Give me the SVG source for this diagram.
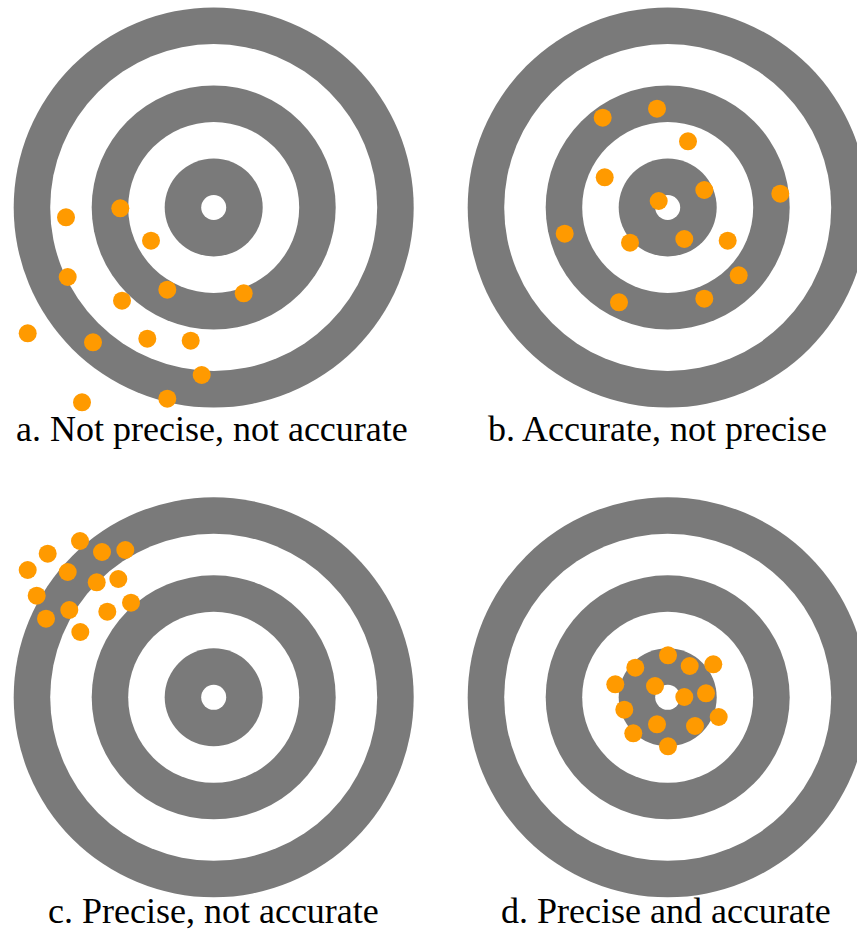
<svg xmlns="http://www.w3.org/2000/svg" width="857" height="930" viewBox="0 0 857 930">
<defs>
<g id="target">
<circle fill="#7a7a7a" r="200"/>
<circle fill="#ffffff" r="163.5"/>
<circle fill="#7a7a7a" r="122"/>
<circle fill="#ffffff" r="85.5"/>
<circle fill="#7a7a7a" r="49"/>
<circle fill="#ffffff" r="12.5"/>
</g>
</defs>
<rect width="857" height="930" fill="#fff"/>
<g id="panel-a">
<use href="#target" x="213.7" y="207.5"/>
<g fill="#ff9a00">
<circle cx="66" cy="217.3" r="9"/><circle cx="120.3" cy="208.3" r="9"/><circle cx="151" cy="240.7" r="9"/>
<circle cx="67.7" cy="277" r="9"/><circle cx="167.3" cy="289.7" r="9"/><circle cx="243.7" cy="293.3" r="9"/>
<circle cx="122" cy="300.7" r="9"/><circle cx="27.7" cy="333.3" r="9"/><circle cx="93" cy="342.3" r="9"/>
<circle cx="147.3" cy="338.7" r="9"/><circle cx="190.7" cy="340.7" r="9"/><circle cx="201.7" cy="375" r="9"/>
<circle cx="167.3" cy="398.7" r="9"/><circle cx="82" cy="402.3" r="9"/>
</g>
<text x="16" y="441" font-size="36" font-family="Times New Roman, Liberation Serif, Tinos, serif" style="font-family:'Liberation Serif','Times New Roman',serif">a. Not precise, not accurate</text>
</g>
<g id="panel-b">
<use href="#target" x="667.7" y="207.5"/>
<g fill="#ff9a00">
<circle cx="602.7" cy="117.7" r="9"/><circle cx="657" cy="108.7" r="9"/><circle cx="688" cy="141.3" r="9"/>
<circle cx="604.7" cy="177.3" r="9"/><circle cx="658.7" cy="201" r="9"/><circle cx="704.3" cy="190" r="9"/>
<circle cx="780.3" cy="193.7" r="9"/><circle cx="564.7" cy="233.7" r="9"/><circle cx="630" cy="242.7" r="9"/>
<circle cx="684.3" cy="239" r="9"/><circle cx="727.7" cy="240.7" r="9"/><circle cx="738.7" cy="275.3" r="9"/>
<circle cx="619" cy="302.3" r="9"/><circle cx="704.3" cy="298.7" r="9"/>
</g>
<text x="488" y="441" font-size="36" font-family="Times New Roman, Liberation Serif, Tinos, serif" style="font-family:'Liberation Serif','Times New Roman',serif">b. Accurate, not precise</text>
</g>
<g id="panel-c">
<use href="#target" x="213.7" y="697.3"/>
<g fill="#ff9a00">
<circle cx="80" cy="541" r="9"/><circle cx="47.7" cy="553.7" r="9"/><circle cx="102" cy="552" r="9"/>
<circle cx="125.3" cy="550" r="9"/><circle cx="27.7" cy="570" r="9"/><circle cx="67.7" cy="572" r="9"/>
<circle cx="118.3" cy="579" r="9"/><circle cx="96.7" cy="582.3" r="9"/><circle cx="36.7" cy="595.7" r="9"/>
<circle cx="131" cy="602.7" r="9"/><circle cx="69.3" cy="610" r="9"/><circle cx="107.3" cy="611.7" r="9"/>
<circle cx="46" cy="618.7" r="9"/><circle cx="80.3" cy="632" r="9"/>
</g>
<text x="48" y="922.5" font-size="36" font-family="Times New Roman, Liberation Serif, Tinos, serif" style="font-family:'Liberation Serif','Times New Roman',serif">c. Precise, not accurate</text>
</g>
<g id="panel-d">
<use href="#target" x="667.7" y="697.3"/>
<g fill="#ff9a00">
<circle cx="668" cy="655.3" r="9"/><circle cx="635.3" cy="667.7" r="9"/><circle cx="689.7" cy="666" r="9"/>
<circle cx="713.3" cy="664.3" r="9"/><circle cx="615.3" cy="684.3" r="9"/><circle cx="655" cy="686" r="9"/>
<circle cx="684.3" cy="697" r="9"/><circle cx="706" cy="693.3" r="9"/><circle cx="624.3" cy="709.7" r="9"/>
<circle cx="718.7" cy="717" r="9"/><circle cx="657" cy="724.3" r="9"/><circle cx="695" cy="726" r="9"/>
<circle cx="633.3" cy="733.3" r="9"/><circle cx="668" cy="746.3" r="9"/>
</g>
<text x="501" y="922.5" font-size="36" font-family="Times New Roman, Liberation Serif, Tinos, serif" style="font-family:'Liberation Serif','Times New Roman',serif">d. Precise and accurate</text>
</g>
</svg>
